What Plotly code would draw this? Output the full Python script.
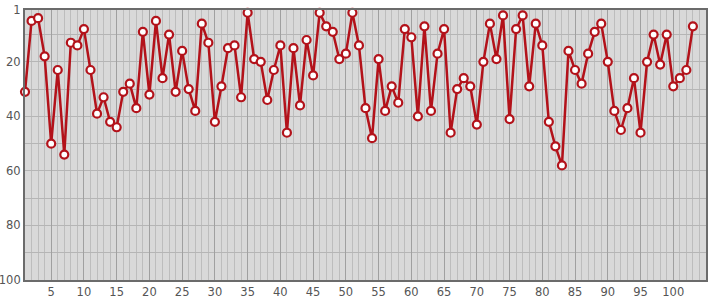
import plotly.graph_objects as go

x_vals = list(range(1, 104))
y_vals = [31, 5, 4, 18, 50, 23, 54, 13, 14, 8,
          23, 39, 33, 42, 44, 31, 28, 37, 9, 32,
          5, 26, 10, 31, 16, 30, 38, 6, 13, 42,
          29, 15, 14, 33, 2, 19, 20, 34, 23, 14,
          46, 15, 36, 12, 25, 2, 7, 9, 19, 17,
          2, 14, 37, 48, 19, 38, 29, 35, 8, 11,
          40, 7, 38, 17, 8, 46, 30, 26, 29, 43,
          20, 6, 19, 3, 41, 8, 3, 29, 6, 14,
          42, 51, 58, 16, 23, 28, 17, 9, 6, 20,
          38, 45, 37, 26, 46, 20, 10, 21, 10, 29,
          26, 23, 7]

x_ticks = list(range(5, 101, 5))
y_ticks = [1, 20, 40, 60, 80, 100]
y_grid = list(range(10, 100, 10))

fig = go.Figure()
fig.add_trace(go.Scatter(
    x=x_vals, y=y_vals, mode="lines+markers",
    line=dict(color="#b3121a", width=2.5),
    marker=dict(size=8, color="white", line=dict(color="#b3121a", width=2.2)),
    cliponaxis=False, showlegend=False,
))

fig.update_layout(
    width=715, height=300,
    margin=dict(l=25, r=9, t=10, b=20),
    paper_bgcolor="white",
    plot_bgcolor="#d9d9d9",
    font=dict(family="DejaVu Sans", size=11.5, color="#555555"),
    xaxis=dict(
        range=[1, 105], tickvals=x_ticks, ticktext=[str(v) for v in x_ticks],
        showgrid=True, gridcolor="#a0a0a0", gridwidth=1,
        minor=dict(dtick=1, tick0=0, showgrid=True, gridcolor="#bdbdbd", gridwidth=1),
        zeroline=False, showline=True, linecolor="#6b6b6b", linewidth=2, mirror=True,
        ticks="", ticklen=0, automargin=False,
    ),
    yaxis=dict(
        range=[100, 1], tickvals=y_ticks, ticktext=[str(v) for v in y_ticks],
        showgrid=False,
        minor=dict(tickvals=y_grid, showgrid=True, gridcolor="#b5b5b5", gridwidth=1),
        zeroline=False, showline=True, linecolor="#6b6b6b", linewidth=2, mirror=True,
        ticks="", ticklen=0, automargin=False, ticklabelstandoff=0,
    ),
)

fig.write_html("out.html")
